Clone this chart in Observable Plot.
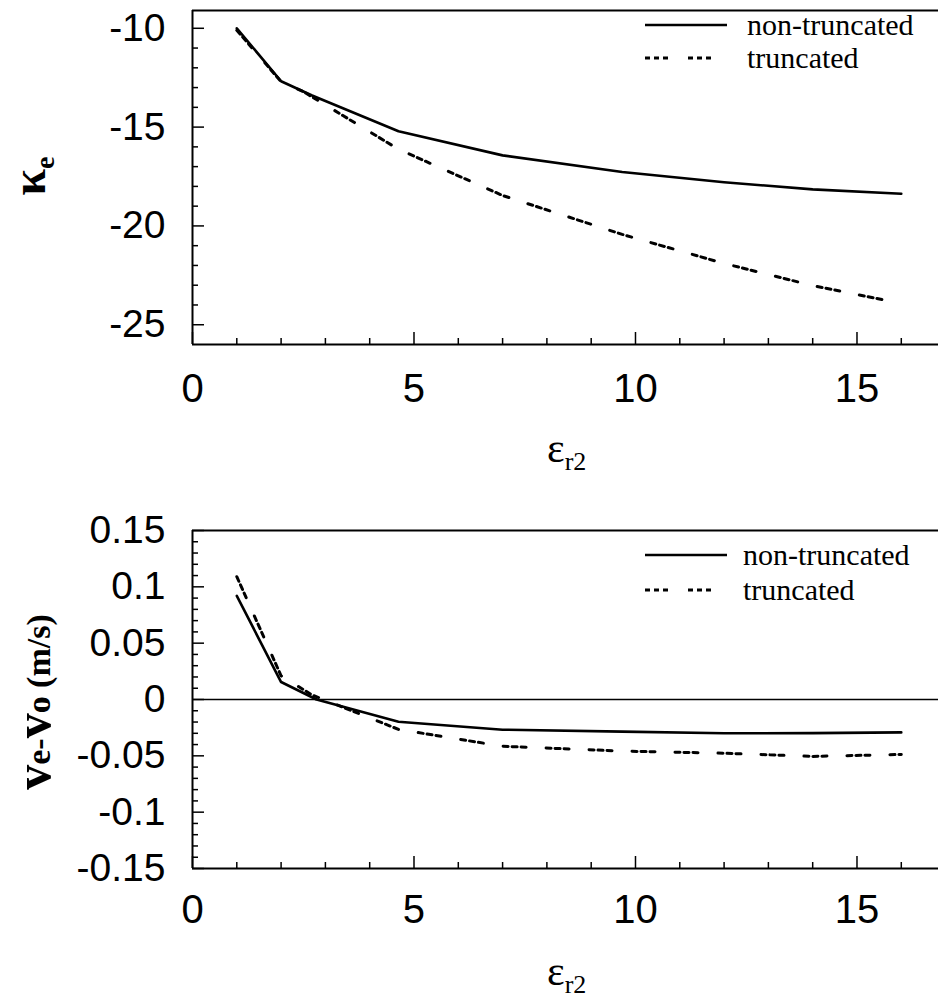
<!DOCTYPE html>
<html><head><meta charset="utf-8">
<script src="https://cdn.jsdelivr.net/npm/d3@7"></script>
<script src="https://cdn.jsdelivr.net/npm/@observablehq/plot@0.6"></script>
<style>
body{margin:0;background:#fff;}
#chart svg{display:block;}
</style></head><body><div id="chart"></div>
<script>
// ---- data ----
const kappaNonTruncX = [1, 2, 2.7, 4.65, 7, 9.7, 12, 14, 16];
const kappaNonTrunc  = [-10.0, -12.68, -13.4, -15.21, -16.43, -17.27, -17.79, -18.15, -18.37];
const kappaTruncX    = [1, 2, 2.5, 4.65, 7, 9.7, 12, 14, 16];
const kappaTrunc     = [-10.1, -12.7, -13.2, -16.12, -18.46, -20.43, -21.9, -23.02, -23.92];

const dvNonTruncX = [1, 2, 2.8, 4.65, 7, 9.7, 12, 14, 16];
const dvNonTrunc  = [0.092, 0.0155, 0, -0.0197, -0.0268, -0.0285, -0.030, -0.0298, -0.0292];
const dvTruncX    = [1, 2, 2.7, 4.65, 7, 9.7, 12, 14, 16];
const dvTrunc     = [0.109, 0.021, 0.004, -0.0265, -0.0415, -0.0458, -0.0477, -0.0505, -0.0488];

const xMajorTicks = [0, 5, 10, 15];
const xMinorTicks = [1, 2, 3, 4, 6, 7, 8, 9, 11, 12, 13, 14, 16];
const kappaMajorTicks = [-10, -15, -20, -25];
const kappaMinorTicks = [-11, -12, -13, -14, -16, -17, -18, -19, -21, -22, -23, -24];
const dvMajorTicks = [-0.15, -0.1, -0.05, 0, 0.05, 0.1, 0.15];
const dvMinorTicks = [-0.14, -0.13, -0.12, -0.11, -0.09, -0.08, -0.07, -0.06, -0.04, -0.03, -0.02, -0.01,
                      0.01, 0.02, 0.03, 0.04, 0.06, 0.07, 0.08, 0.09, 0.11, 0.12, 0.13, 0.14];
const seriesNames = ["non-truncated", "truncated"];

const W = 938, ML = 192;
const xDomain = [0, 16.84];
const DASH = "5,4,5,4,5,20";
const SANS = "'Liberation Sans', Arial, sans-serif";
const SERIF = "'Liberation Serif', 'Times New Roman', serif";

function rows(xs, ys) { return xs.map((x, i) => ({x, y: ys[i]})); }

function panel({height, mt, mb, yDomain, yMajor, yMinor, solid, dashed, zeroLine, tickPadX}) {
  const fh = height - mt - mb, fw = W - ML;
  const marks = [
    Plot.tickX(xMinorTicks, {x: d => d, insetTop: fh - 6, strokeWidth: 1.5}),
    Plot.tickX(xMajorTicks, {x: d => d, insetTop: fh - 12, strokeWidth: 1.5}),
    Plot.tickY(yMinor, {y: d => d, insetRight: fw - 6, strokeWidth: 1.5}),
    Plot.tickY(yMajor, {y: d => d, insetRight: fw - 12, strokeWidth: 1.5}),
    Plot.ruleX([xDomain[0]], {strokeWidth: 2}),
    Plot.ruleY([yDomain[0], yDomain[1]], {strokeWidth: 2}),
  ];
  if (zeroLine) marks.push(Plot.ruleY([0], {strokeWidth: 1.4}));
  marks.push(
    Plot.line(dashed, {x: "x", y: "y", stroke: "black", strokeWidth: 3, strokeDasharray: DASH}),
    Plot.line(solid, {x: "x", y: "y", stroke: "black", strokeWidth: 2.6}),
    Plot.axisX({ticks: xMajorTicks, tickSize: 0, tickPadding: tickPadX, tickFormat: d => String(d), label: null, fontSize: 40}),
    Plot.axisY({ticks: yMajor, tickSize: 0, tickPadding: 27, tickFormat: d => String(d), label: null, fontSize: 39})
  );
  return Plot.plot({
    width: W, height, marginLeft: ML, marginRight: 0, marginTop: mt, marginBottom: mb,
    x: {domain: xDomain}, y: {domain: yDomain},
    style: {fontFamily: SANS, fontSize: "39px", background: "white", color: "black", overflow: "visible"},
    marks
  });
}

function addLegend(svg, x0, ySolid, yDash, textX, fs) {
  const g = d3.select(svg).append("g").attr("text-anchor", "start");
  g.append("line").attr("x1", x0).attr("x2", x0 + 82).attr("y1", ySolid).attr("y2", ySolid)
    .attr("stroke", "black").attr("stroke-width", 2.6);
  g.append("line").attr("x1", x0).attr("x2", x0 + 82).attr("y1", yDash).attr("y2", yDash)
    .attr("stroke", "black").attr("stroke-width", 3).attr("stroke-dasharray", DASH);
  g.append("text").attr("x", textX).attr("y", ySolid + 10).attr("font-family", SERIF).attr("font-size", fs)
    .attr("text-anchor", "start").attr("fill", "black").text(seriesNames[0]);
  g.append("text").attr("x", textX).attr("y", yDash + 10).attr("font-family", SERIF).attr("font-size", fs)
    .attr("text-anchor", "start").attr("fill", "black").text(seriesNames[1]);
}

function addXLabel(svg, x, y) {
  const t = d3.select(svg).append("text").attr("x", x).attr("y", y).attr("text-anchor", "start")
    .attr("font-family", SERIF).attr("fill", "black");
  t.append("tspan").attr("font-size", 42).text("ε");
  t.append("tspan").attr("font-size", 26).attr("dy", 8).text("r2");
}

const topPanel = panel({height: 495, mt: 10, mb: 151, yDomain: [-26, -9.1],
  yMajor: kappaMajorTicks, yMinor: kappaMinorTicks,
  solid: rows(kappaNonTruncX, kappaNonTrunc), dashed: rows(kappaTruncX, kappaTrunc), zeroLine: false, tickPadX: 29});
addLegend(topPanel, 645, 25, 58, 747, 30);
addXLabel(topPanel, 547, 462);
{
  const t = d3.select(topPanel).append("text").attr("transform", "translate(45,176) rotate(-90)")
    .attr("text-anchor", "middle").attr("font-family", SERIF).attr("font-weight", "bold").attr("fill", "black");
  t.append("tspan").attr("font-size", 48).text("κ");
  t.append("tspan").attr("font-size", 28).attr("dy", 9).text("e");
}

const bottomPanel = panel({height: 504, mt: 35, mb: 131, yDomain: [-0.15, 0.15],
  yMajor: dvMajorTicks, yMinor: dvMinorTicks,
  solid: rows(dvNonTruncX, dvNonTrunc), dashed: rows(dvTruncX, dvTrunc), zeroLine: true, tickPadX: 26});
addLegend(bottomPanel, 645, 60, 95, 743, 30);
addXLabel(bottomPanel, 547, 490);
{
  const t = d3.select(bottomPanel).append("text").attr("transform", "translate(50,207) rotate(-90)")
    .attr("text-anchor", "middle").attr("font-family", SERIF).attr("font-weight", "bold").attr("fill", "black");
  t.append("tspan").attr("font-size", 50).text("v");
  t.append("tspan").attr("font-size", 34).text("e");
  t.append("tspan").attr("font-size", 34).text("-");
  t.append("tspan").attr("font-size", 50).text("v");
  t.append("tspan").attr("font-size", 34).text("o");
  t.append("tspan").attr("font-size", 34).text(" (m/s)");
}

document.getElementById("chart").append(topPanel, bottomPanel);
</script>
</body></html>
